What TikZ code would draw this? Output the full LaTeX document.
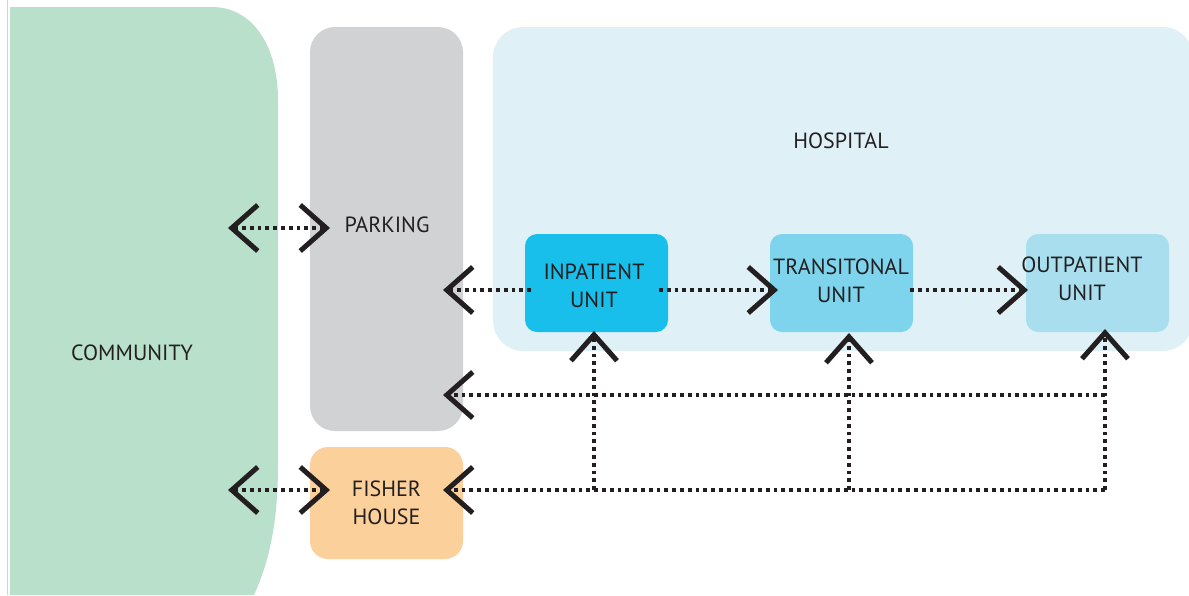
\documentclass[tikz,border=0pt]{standalone}
\usepackage{fontspec}
\setmainfont{PT Sans}
\usetikzlibrary{arrows.meta,calc}
\definecolor{ink}{HTML}{231F20}
\definecolor{commc}{HTML}{B9E0CB}
\definecolor{parkc}{HTML}{D1D2D4}
\definecolor{hospc}{HTML}{DFF1F7}
\definecolor{inpc}{HTML}{17BFEA}
\definecolor{tranc}{HTML}{7DD4EC}
\definecolor{outc}{HTML}{A9DEEE}
\definecolor{fishc}{HTML}{FCD09A}
\definecolor{edgec}{HTML}{C5DDD0}
\begin{document}
\begin{tikzpicture}[x=1pt,y=-1pt,
  lbl/.style={text=ink,align=center,font=\fontsize{22}{28}\selectfont},
  area/.style={inner sep=0pt,draw=none},
  unitbox/.style={area,rounded corners=12pt,minimum width=143pt,minimum height=98pt},
  conn/.style={draw=ink,line width=3.8pt,dash pattern=on 3.8pt off 4pt},
  chev/.tip={Straight Barb[length=26pt,width=46pt,line width=5pt,sharp]}
]
\useasboundingbox (0,0) rectangle (1189,595);
% thin edge line
\draw[edgec,line width=1pt] (7.5,0) -- (7.5,595);
% community shape
\fill[commc] (10,7) -- (212,7) .. controls (252,7) and (278,45) .. (278,100)
  -- (278,465) .. controls (278,520) and (270,560) .. (254,595) -- (10,595) -- cycle;
\node[lbl] (comm) at (132,353) {COMMUNITY};
% parking
\node[area,fill=parkc,rounded corners=25pt,minimum width=153pt,minimum height=404pt] (park) at (386.5,229) {};
\node[lbl] (parkt) at (387,225) {PARKING};
% hospital
\node[area,fill=hospc,rounded corners=30pt,minimum width=700pt,minimum height=324pt] (hosp) at (843,189) {};
\node[lbl] (hospt) at (841,141) {HOSPITAL};
% fisher house
\node[area,fill=fishc,rounded corners=18pt,minimum width=153pt,minimum height=112pt,lbl] (fish) at (386.5,503) {FISHER\\HOUSE};
% units
\node[unitbox,fill=inpc,lbl] (inp) at (596.5,283) {};
\node[lbl] (inpt) at (594,286) {INPATIENT\\UNIT};
\node[unitbox,fill=tranc] (tran) at (841.5,283) {};
\node[lbl] (trant) at (841,281) {TRANSITONAL\\UNIT};
\node[unitbox,fill=outc] (outp) at (1097.5,283) {};
\node[lbl] (outpt) at (1082,279) {OUTPATIENT\\UNIT};
% connector end points
\coordinate (commP) at (228,228);
\coordinate (parkC) at (330,228);
\coordinate (commF) at (228,490);
\coordinate (fishC) at (330,490);
\coordinate (parkI) at (443,290);
\coordinate (parkB) at (443,395);
\coordinate (fishB) at (443,490);
\coordinate (inpR) at (531,290);
\coordinate (inpO) at (659,290);
\coordinate (tranI) at (778,290);
\coordinate (tranO) at (910,290);
\coordinate (outI) at (1028,290);
\coordinate (inpB) at (594,331);
\coordinate (tranB) at (849,333);
\coordinate (outB) at (1105,329);
\coordinate (j1) at (594,490);
\coordinate (j2) at (849,490);
\coordinate (j3) at (1105,490);
\coordinate (j4) at (1105,395);
% connectors
\draw[conn,chev-chev] (commP) -- (parkC);
\draw[conn,chev-chev] (commF) -- (fishC);
\draw[conn,-chev] (inpR) -- (parkI);
\draw[conn,-chev] (inpO) -- (tranI);
\draw[conn,-chev] (tranO) -- (outI);
\draw[conn,-chev] (j3) -- (fishB);
\draw[conn,-chev] (j4) -- (parkB);
\draw[conn,-chev] (j1) -- (inpB);
\draw[conn,-chev] (j2) -- (tranB);
\draw[conn,-chev] (j3) -- (outB);
\end{tikzpicture}
\end{document}
